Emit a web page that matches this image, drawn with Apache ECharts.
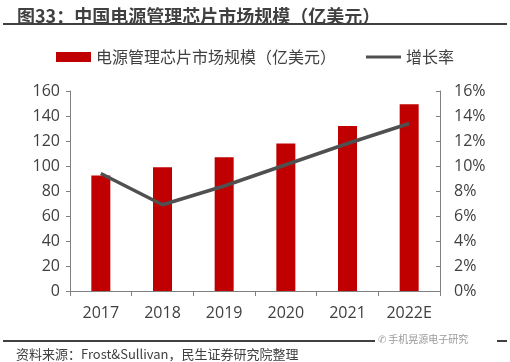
<!DOCTYPE html>
<html><head><meta charset="utf-8">
<script src="https://cdn.jsdelivr.net/npm/echarts@6/dist/echarts.min.js"></script>
<style>html,body{margin:0;padding:0;background:#fff}#c{width:510px;height:362px}</style>
</head><body><div id="c"></div>
<script>
var categories = ['2017','2018','2019','2020','2021','2022E'];
var marketSize = [92.5, 99, 107, 118, 132, 149.5];
var growthRate = [9.4, 6.9, 8.4, 10.1, 11.8, 13.4];
var titleText = '图33：中国电源管理芯片市场规模（亿美元）';
var sourceText = '资料来源：Frost&Sullivan，民生证券研究院整理';
var barName = '电源管理芯片市场规模（亿美元）';
var lineName = '增长率';

var FONT = '"Open Sans","Noto Sans CJK SC",sans-serif';
var chart = echarts.init(document.getElementById('c'));
chart.setOption({
  animation:false,
  backgroundColor:'#fff',
  textStyle:{fontFamily:FONT},
  title:[
    {text:titleText,left:12,top:2,textStyle:{fontFamily:'"Noto Sans CJK SC",sans-serif',fontSize:18,fontWeight:'bold',color:'#404040'}},
    {text:sourceText,left:11,top:343,textStyle:{fontFamily:'"Noto Sans CJK SC",sans-serif',fontSize:13,fontWeight:'normal',color:'#404040'}}
  ],
  graphic:[
    {type:'rect',shape:{x:3,y:23,width:504,height:2},style:{fill:'#404040'},silent:true},
    {type:'rect',shape:{x:3,y:340,width:504,height:2},style:{fill:'#404040'},silent:true},
    {type:'rect',shape:{x:375,y:334,width:122,height:14},style:{fill:'#fff'},silent:true},
    {type:'text',left:378,top:334,style:{text:'✆ 手机晃源电子研究',fill:'#999',font:'10px "Noto Sans CJK SC"'},silent:true}
  ],
  legend:{
    top:44,left:'center',itemGap:30,
    textStyle:{fontSize:16,color:'#404040',fontFamily:'"Noto Sans CJK SC",sans-serif'},
    itemWidth:35,itemHeight:10,
    data:[{name:barName,icon:'rect'},
          {name:lineName,icon:'path://M0,0 M38,10 M0,3.5 L38,3.5 L38,6.5 L0,6.5 Z',itemStyle:{color:'#505050'}}]
  },
  grid:{left:70,right:70,top:91,bottom:71},
  xAxis:{
    type:'category',data:categories,
    axisLine:{lineStyle:{color:'#808080',width:1}},
    axisTick:{show:true,alignWithLabel:false,length:5,lineStyle:{color:'#808080'}},
    axisLabel:{fontSize:16,color:'#404040',margin:14,fontFamily:FONT}
  },
  yAxis:[
    {type:'value',min:0,max:160,interval:20,
     axisLine:{show:true,lineStyle:{color:'#808080'}},
     axisTick:{show:true,length:4,lineStyle:{color:'#808080'}},
     splitLine:{show:false},
     axisLabel:{fontSize:16,color:'#404040',margin:10,fontFamily:FONT}},
    {type:'value',min:0,max:16,interval:2,position:'right',
     axisLine:{show:true,lineStyle:{color:'#808080'}},
     axisTick:{show:true,inside:true,length:4,lineStyle:{color:'#808080'}},
     splitLine:{show:false},
     axisLabel:{fontSize:16,color:'#404040',margin:14,formatter:'{value}%',fontFamily:FONT}}
  ],
  series:[
    {name:barName,type:'bar',data:marketSize,barWidth:19,itemStyle:{color:'#C00000'}},
    {name:lineName,type:'line',yAxisIndex:1,data:growthRate,symbol:'none',
     lineStyle:{color:'#505050',width:3.5},itemStyle:{color:'#505050'}}
  ]
});
</script></body></html>
